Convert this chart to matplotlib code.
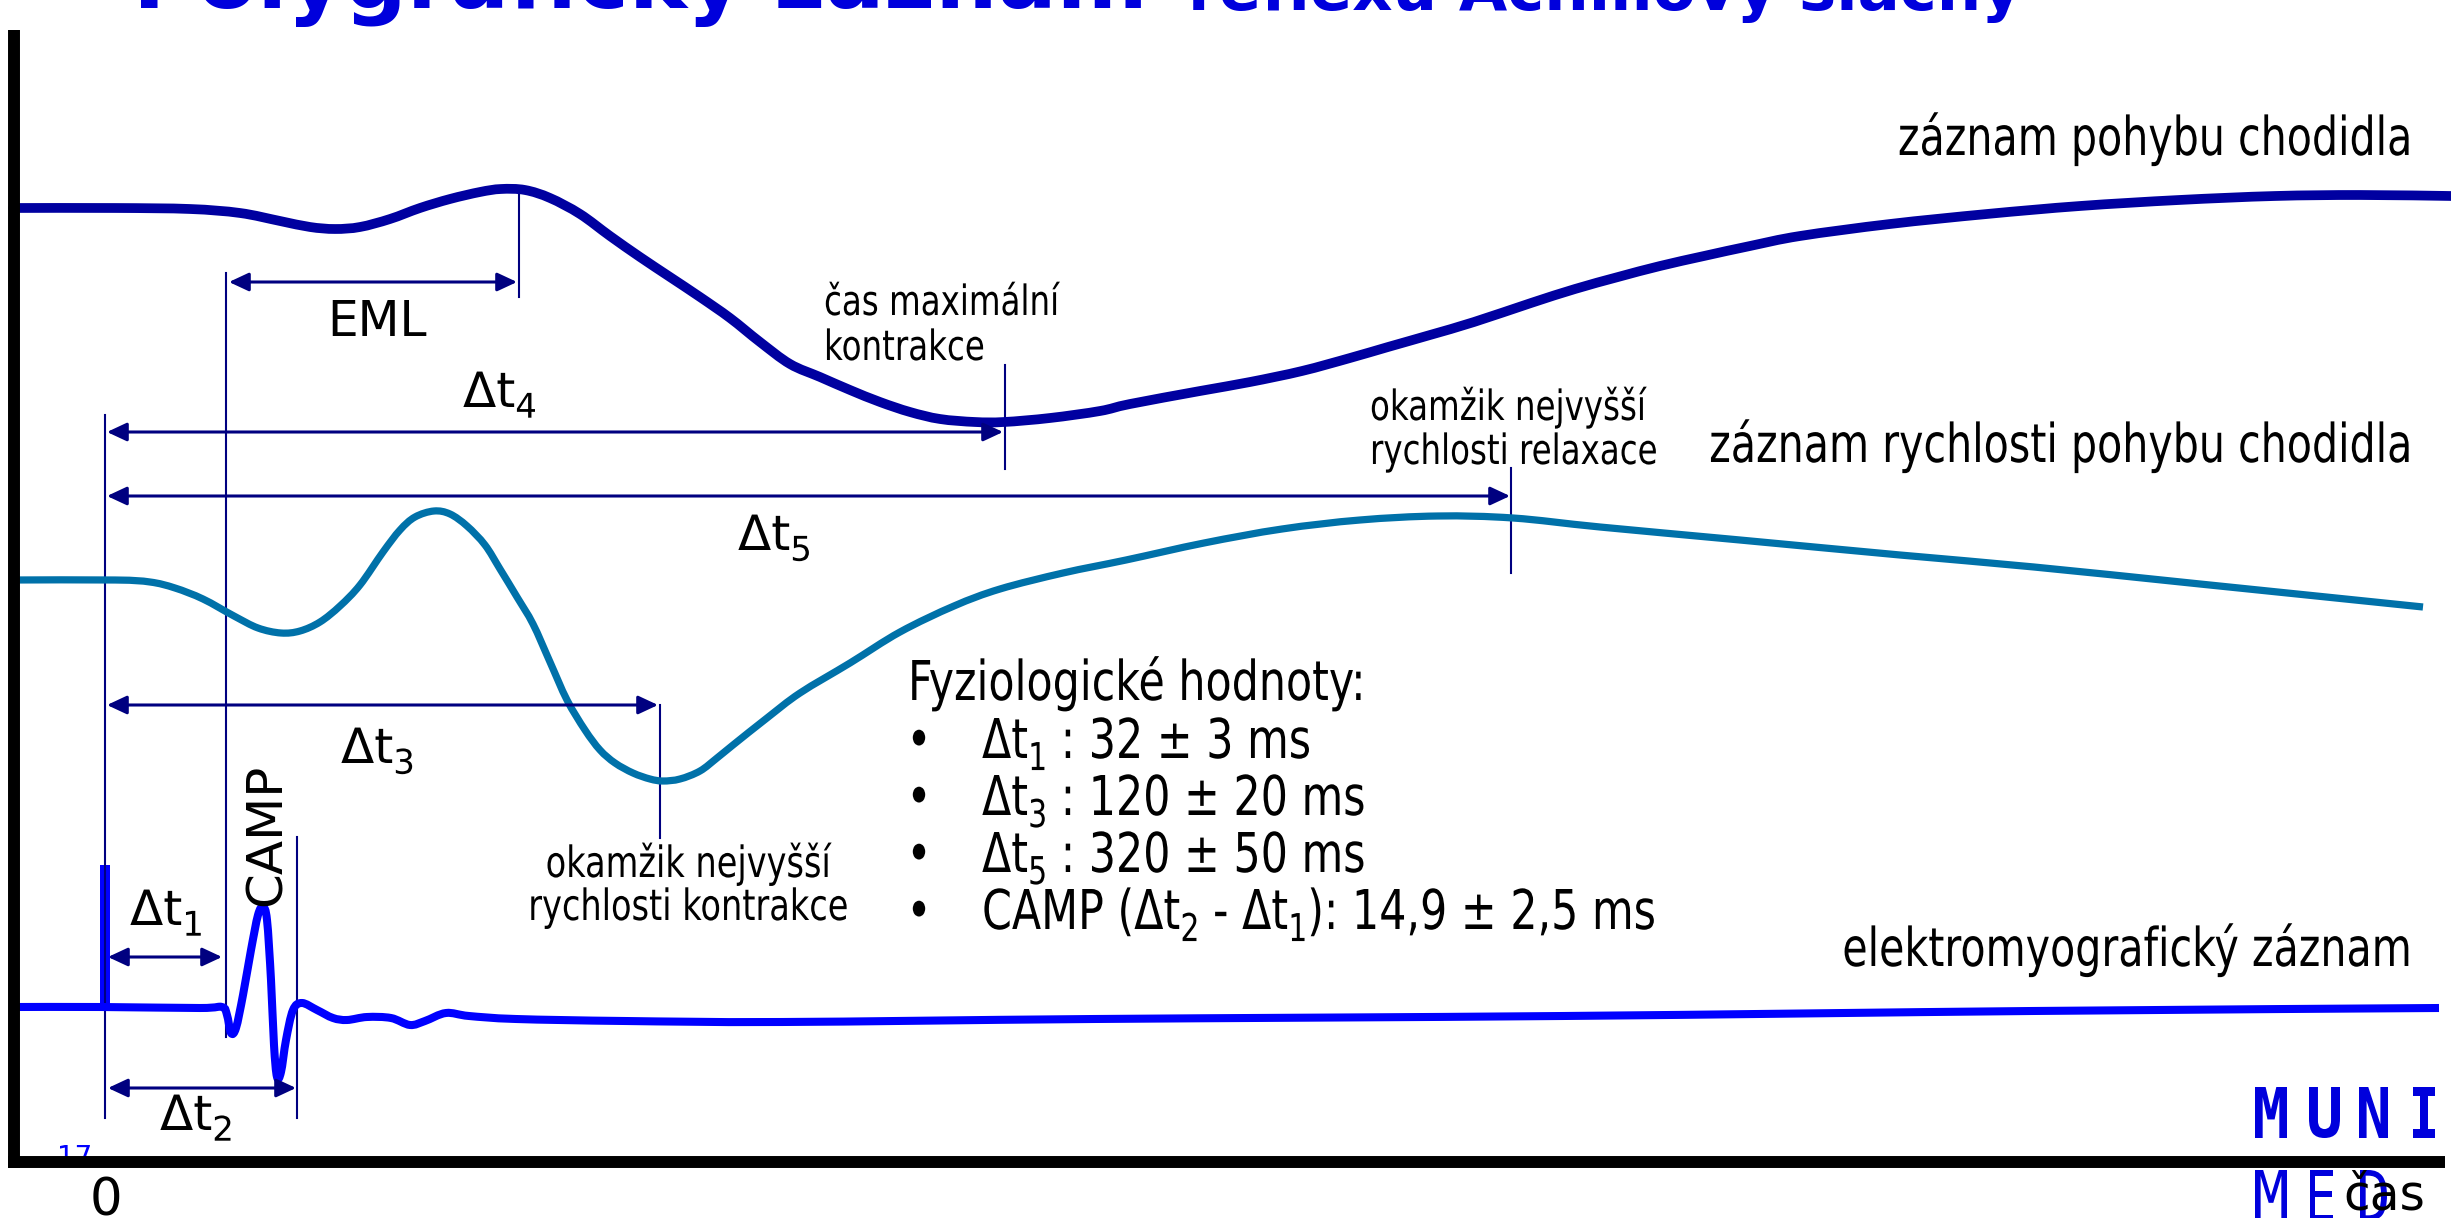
import matplotlib
matplotlib.use("Agg")
import matplotlib.pyplot as plt
from matplotlib.path import Path
from matplotlib.textpath import TextPath
from matplotlib.patches import PathPatch
from matplotlib.font_manager import FontProperties
from matplotlib.transforms import Affine2D

# traces (x = time axis, y = drawing units, downwards)
foot_x = [13, 115, 190, 240, 280, 310, 335, 360, 390, 420, 450, 480, 501, 525, 550, 580,
          610, 640, 670, 700, 730, 760, 790, 820, 850, 880, 910, 940, 975, 1004, 1050, 1100,
          1130, 1200, 1250, 1302, 1350, 1388, 1430, 1474, 1531, 1575, 1618, 1660, 1704, 1750,
          1800, 1890, 1987, 2080, 2179, 2275, 2360, 2451]
foot_y = [208, 208, 209, 213, 221, 227, 229, 227, 219, 208, 199, 192, 189, 190, 198, 214,
          236, 257, 277, 297, 318, 342, 364, 377, 390, 402, 412, 419, 422, 422, 418, 411,
          404, 391, 382, 371, 358, 347, 335, 322, 303, 289, 277, 266, 256, 246,
          236, 224, 214, 206, 200, 196, 195, 196]

speed_x = [13, 115, 150, 175, 203, 234, 258, 281, 300, 320, 340, 360, 383, 400, 415,
           434, 450, 467, 485, 500, 517, 533, 550, 567, 585, 600, 615, 633, 650, 663, 680,
           700, 717, 733, 767, 800, 850, 900, 954, 1000, 1063, 1126, 1204, 1282, 1360, 1438,
           1513, 1600, 1740, 1900, 2034, 2200, 2423]
speed_y = [580, 580, 582, 588, 599, 616, 628, 633, 631, 622, 606, 585, 552, 530, 517,
           511, 514, 526, 545, 569, 597, 624, 662, 700, 730, 750, 763, 773, 779, 781, 779,
           771, 758, 745, 718, 693, 663, 632, 606, 589, 573, 560, 543, 529, 520, 516,
           518, 527, 540, 555, 567, 584, 607]

emg_x = [15, 100, 200, 222, 227, 231, 236, 243, 251, 258, 263, 267, 271, 274, 277, 281,
         286, 293, 302, 317, 333, 347, 367, 391, 410, 425, 446, 469, 516, 625, 782, 1094,
         1563, 2032, 2439]
emg_y = [1007, 1007, 1008, 1007, 1015, 1033, 1028, 995, 950, 915, 907, 920, 980, 1045, 1077, 1072,
         1040, 1010, 1003, 1010, 1018, 1020, 1017, 1018, 1025, 1021, 1013, 1016, 1019, 1021, 1022, 1019,
         1016, 1011, 1008]
stim_x = 105
stim_top = 865

# marker lines and double arrows
guides = [(105, 415, 1118), (226, 273, 1037), (519, 188, 297), (1005, 365, 469),
          (1511, 468, 573), (660, 705, 838), (297, 837, 1118)]
spans = [(229, 517, 282), (107, 1003, 432), (107, 1510, 496), (107, 658, 705),
         (108, 222, 957), (108, 296, 1088)]

trace_labels = ["záznam pohybu chodidla", "záznam rychlosti pohybu chodidla",
                "elektromyografický záznam"]
values_head = "Fyziologické hodnoty:"
values = [[("Δt", 0), ("1", 1), (" : 32 ± 3 ms", 0)],
          [("Δt", 0), ("3", 1), (" : 120 ± 20 ms", 0)],
          [("Δt", 0), ("5", 1), (" : 320 ± 50 ms", 0)],
          [("CAMP (Δt", 0), ("2", 1), (" - Δt", 0), ("1", 1), ("): 14,9 ± 2,5 ms", 0)]]

WIDE = ["DejaVu Sans"]
FP = FontProperties(family="DejaVu Sans")
NAVY = "#000080"
PX = 100 / 72

W, H = 2451, 1218
fig = plt.figure(figsize=(W / 100, H / 100), dpi=100)
ax = fig.add_axes([0, 0, 1, 1])
ax.set_xlim(0, W)
ax.set_ylim(H, 0)
ax.axis("off")
rend = fig.canvas.get_renderer()


def textw(s, fs):
    t = ax.text(0, 0, "|" + s + "|", fontsize=fs, family=WIDE)
    w1 = t.get_window_extent(rend).width
    t.remove()
    t = ax.text(0, 0, "||", fontsize=fs, family=WIDE)
    w0 = t.get_window_extent(rend).width
    t.remove()
    return w1 - w0


def put(x, y, parts, size, ha="left", xs=1.0, color="black"):
    # text runs with subscripts; xs < 1 squeezes the glyphs horizontally
    pos = []
    cx = 0
    for s, sub in parts:
        fs = size * 0.7 if sub else size
        pos.append((s, fs, cx, 0.22 * size * PX if sub else 0))
        cx += textw(s, fs) * xs
    off = {"left": 0, "center": cx / 2, "right": cx}[ha]
    for s, fs, dx, dy in pos:
        tp = TextPath((0, 0), s, size=fs * PX, prop=FP)
        tr = Affine2D().scale(xs, -1).translate(x - off + dx, y + dy)
        ax.add_patch(PathPatch(tr.transform_path(tp), fc=color, ec="none", lw=0, zorder=4))


def glyph(ch, x0, ytop, w, h, weight, color="#0000DC"):
    tp = TextPath((0, 0), ch, size=100,
                  prop=FontProperties(family="DejaVu Sans Mono", weight=weight))
    e = tp.get_extents()
    tr = Affine2D().translate(-e.x0, -e.y1).scale(w / e.width, -h / e.height).translate(x0, ytop)
    ax.add_patch(PathPatch(tr.transform_path(tp), fc=color, ec="none", zorder=6))


def trace(xv, yv, color, lw, cap="butt"):
    pts = list(zip(xv, yv))
    verts = [pts[0]]
    codes = [Path.MOVETO]
    for i in range(len(pts) - 1):
        p0 = pts[max(i - 1, 0)]
        p1, p2 = pts[i], pts[i + 1]
        p3 = pts[min(i + 2, len(pts) - 1)]
        verts += [(p1[0] + (p2[0] - p0[0]) / 6, p1[1] + (p2[1] - p0[1]) / 6),
                  (p2[0] - (p3[0] - p1[0]) / 6, p2[1] - (p3[1] - p1[1]) / 6), p2]
        codes += [Path.CURVE4] * 3
    ax.add_patch(PathPatch(Path(verts, codes), fc="none", ec=color, lw=lw,
                           capstyle=cap, joinstyle="round", zorder=3))


# traces
trace(foot_x, foot_y, "#0000A0", 7.0, "round")
trace(speed_x, speed_y, "#0071A9", 5.2)
trace(emg_x, emg_y, "#0000FF", 5.8)
ax.plot([stim_x, stim_x], [stim_top, emg_y[0]], color="#0000FF", lw=7.2, solid_capstyle="butt")

for gx, g0, g1 in guides:
    ax.plot([gx, gx], [g0, g1], color=NAVY, lw=1.5)
for a0, a1, ay in spans:
    ax.annotate("", xy=(a1, ay), xytext=(a0, ay),
                arrowprops=dict(arrowstyle="<|-|>,head_length=0.6,head_width=0.28",
                                color=NAVY, lw=2.2, mutation_scale=20,
                                shrinkA=0, shrinkB=0))

# axes of the diagram
ax.plot([14, 14], [30, 1168], color="black", lw=8.6, solid_capstyle="butt", zorder=5)
ax.plot([8, 2445], [1162, 1162], color="black", lw=8.6, solid_capstyle="butt", zorder=5)

# title (cut by the top edge)
ax.text(133, 8, "Polygrafický záznam", fontsize=63, weight="bold", color="#0000DC",
        family=WIDE, va="baseline")
ax.text(1188, 10, "reflexu Achillovy šlachy", fontsize=45, weight="bold", color="#0000DC",
        family=WIDE, va="baseline")

# trace names
put(2412, 155, [(trace_labels[0], 0)], 38.5, ha="right", xs=0.77)
put(2412, 462, [(trace_labels[1], 0)], 38.5, ha="right", xs=0.77)
put(2412, 966, [(trace_labels[2], 0)], 38.5, ha="right", xs=0.77)

# small notes
put(824, 315, [("čas maximální", 0)], 30, xs=0.78)
put(824, 360, [("kontrakce", 0)], 30, xs=0.78)
put(1370, 420, [("okamžik nejvyšší", 0)], 30, xs=0.78)
put(1370, 464, [("rychlosti relaxace", 0)], 30, xs=0.78)
put(688, 877, [("okamžik nejvyšší", 0)], 31, ha="center", xs=0.78)
put(688, 920, [("rychlosti kontrakce", 0)], 31, ha="center", xs=0.78)

# interval labels
ax.text(377, 336, "EML", fontsize=35, family=WIDE, ha="center", va="baseline")
put(463, 407, [("Δt", 0), ("4", 1)], 35)
put(738, 550, [("Δt", 0), ("5", 1)], 35)
put(341, 763, [("Δt", 0), ("3", 1)], 35)
put(130, 925, [("Δt", 0), ("1", 1)], 35)
put(160, 1130, [("Δt", 0), ("2", 1)], 35)
ax.text(267, 835, "CAMP", fontsize=36, family=WIDE, rotation=90, ha="center", va="center")

# physiological values
put(908, 700, [(values_head, 0)], 39.5, xs=0.78)
for i, row in enumerate(values):
    yy = 758 + i * 57
    put(919, yy, [("•", 0)], 39.5, ha="center", xs=0.78)
    put(982, yy, row, 39.5, xs=0.78)

# axis marks
ax.text(57, 1166, "17", fontsize=20, family=WIDE, color="#0000FF", va="baseline", zorder=1)
ax.text(106, 1215, "0", fontsize=37, family=WIDE, ha="center", va="baseline")

# logo
for ch, x0, w in zip("MUNI", [2255, 2309, 2359, 2413], [32, 31, 29, 22]):
    glyph(ch, x0, 1087, w, 51, "bold")
for ch, x0, w in zip("MED", [2255, 2310, 2360], [32, 23, 27]):
    glyph(ch, x0, 1170, w, 51, "normal")

ax.text(2343, 1210, "čas", fontsize=35, family=WIDE, va="baseline", zorder=7)

fig.savefig("out.png", dpi=100)
